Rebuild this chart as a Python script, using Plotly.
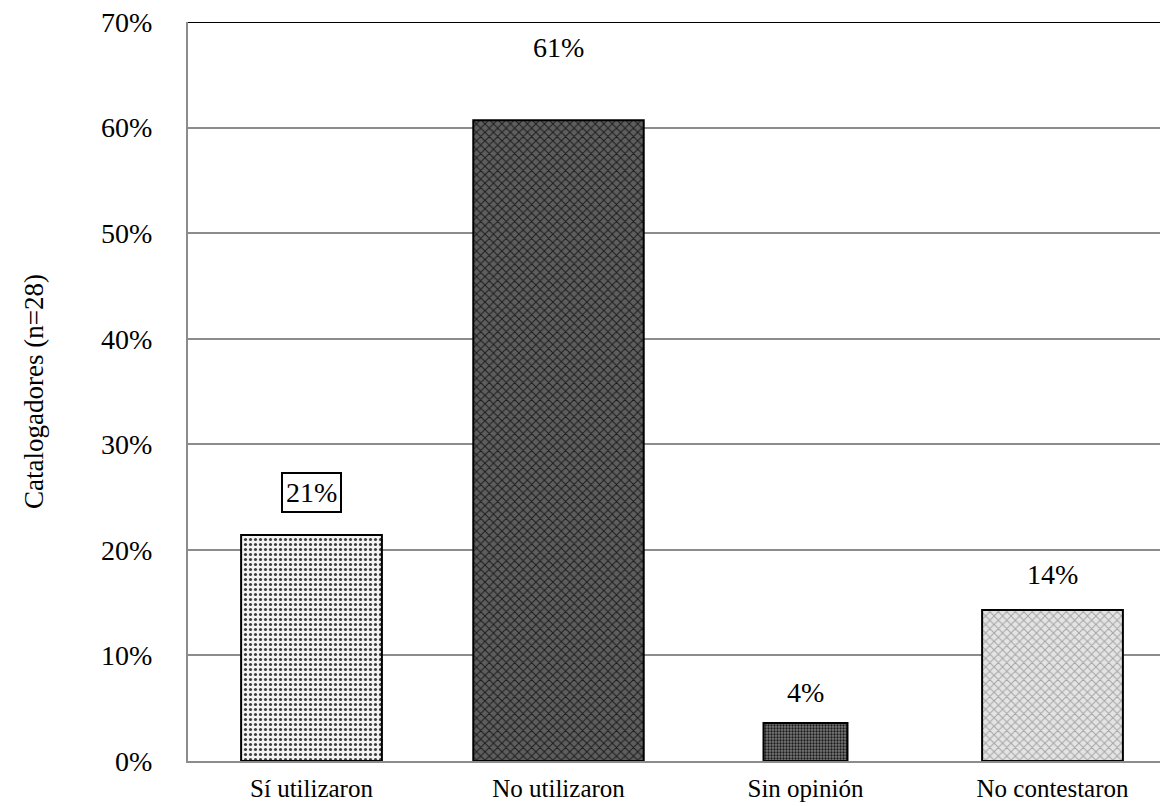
import plotly.graph_objects as go

categories = ["Sí utilizaron", "No utilizaron", "Sin opinión", "No contestaron"]
values = [0.214, 0.607, 0.036, 0.143]
labels = ["21%", "61%", "4%", "14%"]
ytick_vals = [0, 0.1, 0.2, 0.3, 0.4, 0.5, 0.6, 0.7]
ytick_text = ["0%", "10%", "20%", "30%", "40%", "50%", "60%", "70%"]

# styles
bar_widths = [0.57, 0.69, 0.34, 0.57]
pat_shapes = [".", "x", ".", "x"]
pat_bg = ["#f4f4f4", "#5e5e5e", "#7a7a7a", "#e4e4e4"]
pat_fg = ["#3c3c3c", "#1c1c1c", "#1a1a1a", "#a4a4a4"]
pat_size = [5, 6, 3, 6]
pat_solid = [0.3, 0.3, 0.45, 0.3]
label_shift = [43, 73, 30, 36]
label_box = [True, False, False, False]

FONT = "Liberation Serif"

fig = go.Figure()
for i, (c, v) in enumerate(zip(categories, values)):
    fig.add_trace(go.Bar(
        x=[c], y=[v], width=bar_widths[i],
        marker=dict(
            color=pat_bg[i],
            line=dict(color="#000000", width=2),
            pattern=dict(shape=pat_shapes[i], fgcolor=pat_fg[i], fgopacity=1,
                         size=pat_size[i], solidity=pat_solid[i], fillmode="overlay"),
        ),
        showlegend=False,
    ))

for c, v, t, s, b in zip(categories, values, labels, label_shift, label_box):
    fig.add_annotation(
        x=c, y=v, text=t, showarrow=False, yshift=s, yanchor="middle",
        font=dict(family=FONT, size=28, color="#000"),
        bordercolor="#000" if b else "rgba(0,0,0,0)", borderwidth=2 if b else 0,
        borderpad=3,
    )

# top border line
fig.add_shape(type="line", xref="paper", yref="y", x0=0, x1=1, y0=0.7, y1=0.7,
              line=dict(color="#000", width=2))

fig.update_layout(
    width=1168, height=806,
    margin=dict(l=180, r=0, t=14, b=53),
    paper_bgcolor="white", plot_bgcolor="white",
    font=dict(family=FONT, color="#000"),
    barmode="overlay",
)
fig.update_xaxes(
    type="category", range=[-0.5, 3.5], automargin=False,
    showline=True, linecolor="#8c8c8c", linewidth=2,
    showgrid=False, ticks="", tickfont=dict(family=FONT, size=25),
    ticklabelstandoff=4, ticklabeloverflow="allow",
)
fig.update_yaxes(
    range=[0, 0.7], tickvals=ytick_vals, ticktext=ytick_text, automargin=False,
    showline=True, linecolor="#8c8c8c", linewidth=2,
    showgrid=True, gridcolor="#8c8c8c", gridwidth=1.5,
    ticks="", tickfont=dict(family=FONT, size=28),
    ticklabelstandoff=28, ticklabeloverflow="allow",
    title=dict(text="Catalogadores (n=28)", font=dict(family=FONT, size=27), standoff=50),
    zeroline=False,
)

fig.write_html("out.html")
